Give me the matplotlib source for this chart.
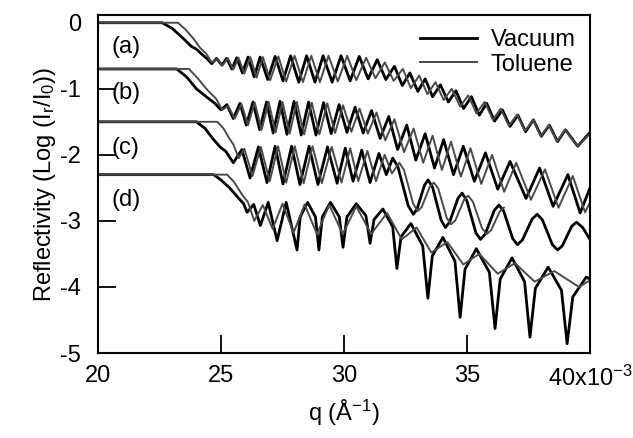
import matplotlib
matplotlib.use("Agg")
import matplotlib.pyplot as plt
from matplotlib.lines import Line2D

plt.rcParams['font.family'] = ['Liberation Sans', 'DejaVu Sans']
plt.rcParams['mathtext.fontset'] = 'custom'
plt.rcParams['mathtext.rm'] = 'Liberation Sans'
plt.rcParams['mathtext.it'] = 'Liberation Sans'
plt.rcParams['axes.unicode_minus'] = False

# q in units of 1e-3 A^-1, reflectivity as log10(I_r/I_0), offset per sample
a_vac_q = [20.0, 22.6, 23.0, 23.5, 23.8, 24.0, 24.2, 24.45,
           24.62, 24.82, 25.03, 25.23, 25.44, 25.64, 25.87, 26.10, 26.35, 26.59,
           26.90, 27.20, 27.52, 27.83, 28.16, 28.48, 28.82, 29.15, 29.52, 29.88,
           30.25, 30.62, 30.98, 31.35, 31.70, 32.05, 32.37, 32.68, 33.00, 33.30,
           33.60, 33.92, 34.24, 34.55, 34.86, 35.18, 35.50, 35.80, 36.12, 36.44,
           36.75, 37.07, 37.38, 37.70, 38.02, 38.35, 38.68, 39.00, 39.50, 40.0]
a_vac_r = [0.0, 0.0, -0.08, -0.25, -0.36, -0.40, -0.47, -0.55,
           -0.62, -0.54, -0.64, -0.54, -0.70, -0.53, -0.76, -0.52, -0.82, -0.52,
           -0.86, -0.51, -0.88, -0.50, -0.90, -0.50, -0.90, -0.50, -0.90, -0.50,
           -0.88, -0.51, -0.85, -0.56, -0.86, -0.66, -0.95, -0.76, -1.04, -0.85,
           -1.12, -0.94, -1.20, -1.03, -1.30, -1.12, -1.40, -1.22, -1.49, -1.32,
           -1.57, -1.40, -1.65, -1.47, -1.72, -1.55, -1.80, -1.62, -1.87, -1.66]

a_tol_q = [20.0, 23.25, 23.55, 23.9, 24.15, 24.4,
           24.62, 24.85, 25.06, 25.28, 25.50, 25.71, 25.95, 26.19, 26.45, 26.70,
           27.00, 27.33, 27.65, 27.99, 28.33, 28.67, 29.02, 29.37, 29.75, 30.13,
           30.50, 30.90, 31.28, 31.66, 32.02, 32.39, 32.72, 33.06, 33.39, 33.72,
           34.05, 34.38, 34.72, 35.05, 35.38, 35.72, 36.05, 36.37, 36.70, 37.04,
           37.36, 37.69, 38.00, 38.33, 38.66, 38.98, 39.50, 40.0]
a_tol_r = [0.0, 0.0, -0.1, -0.25, -0.38, -0.47,
           -0.60, -0.55, -0.65, -0.54, -0.71, -0.53, -0.77, -0.52, -0.83, -0.52,
           -0.87, -0.51, -0.89, -0.50, -0.90, -0.50, -0.90, -0.50, -0.89, -0.50,
           -0.87, -0.53, -0.84, -0.60, -0.88, -0.70, -0.99, -0.80, -1.08, -0.90,
           -1.17, -1.00, -1.27, -1.10, -1.37, -1.20, -1.47, -1.30, -1.56, -1.39,
           -1.64, -1.47, -1.72, -1.55, -1.80, -1.62, -1.87, -1.68]

b_vac_q = [20.0, 23.2, 23.6, 24.0, 24.4, 24.75,
           25.00, 25.24, 25.50, 25.77, 26.03, 26.30, 26.57, 26.85, 27.12, 27.40,
           27.68, 27.97, 28.26, 28.56, 28.86, 29.17, 29.48, 29.80, 30.12, 30.45,
           30.78, 31.12, 31.47, 31.82, 32.18, 32.55, 32.92, 33.30, 33.68, 34.05,
           34.45, 34.85, 35.30, 35.75, 36.25, 36.75, 37.40, 37.95, 38.50, 39.10,
           39.60, 40.0]
b_vac_r = [-0.7, -0.7, -0.82, -1.0, -1.12, -1.22,
           -1.32, -1.24, -1.45, -1.22, -1.55, -1.20, -1.62, -1.20, -1.67, -1.19,
           -1.69, -1.19, -1.70, -1.20, -1.70, -1.21, -1.68, -1.24, -1.66, -1.28,
           -1.67, -1.33, -1.75, -1.42, -1.92, -1.55, -2.08, -1.68, -2.20, -1.77,
           -2.30, -1.87, -2.40, -1.97, -2.52, -2.10, -2.66, -2.20, -2.78, -2.30,
           -2.88, -2.50]

b_tol_q = [20.0, 23.7, 24.05, 24.45, 24.8, 25.05,
           25.29, 25.56, 25.83, 26.10, 26.37, 26.65, 26.94, 27.22, 27.50, 27.79,
           28.08, 28.38, 28.69, 29.00, 29.32, 29.64, 29.96, 30.30, 30.63, 30.97,
           31.32, 31.68, 32.05, 32.44, 32.83, 33.22, 33.60, 33.98, 34.35, 34.75,
           35.14, 35.58, 36.02, 36.51, 37.00, 37.60, 38.17, 38.72, 39.30, 39.80,
           40.0]
b_tol_r = [-0.7, -0.7, -0.84, -1.02, -1.15, -1.32,
           -1.26, -1.45, -1.23, -1.55, -1.21, -1.62, -1.20, -1.66, -1.20, -1.68,
           -1.20, -1.69, -1.21, -1.69, -1.22, -1.67, -1.25, -1.65, -1.30, -1.68,
           -1.36, -1.78, -1.46, -1.96, -1.60, -2.12, -1.71, -2.23, -1.80, -2.33,
           -1.90, -2.44, -2.00, -2.56, -2.12, -2.68, -2.22, -2.80, -2.32, -2.87,
           -2.72]

c_vac_q = [20.0, 24.0, 24.35, 24.7, 24.96, 25.2,
           25.50, 25.85, 26.18, 26.52, 26.87, 27.20, 27.52, 27.87, 28.21, 28.58,
           28.94, 29.33, 29.72, 30.05, 30.37, 30.72, 31.06, 31.42, 31.72, 31.98,
           32.19, 32.61, 32.82, 32.97, 33.27, 33.42, 33.60, 33.95, 34.12, 34.29,
           34.63, 34.80, 34.99, 35.36, 35.55, 35.74, 36.11, 36.30, 36.49, 36.86,
           37.05, 37.25, 37.65, 37.85, 38.06, 38.47, 38.68, 38.87, 39.26, 39.45,
           39.70, 40.0]
c_vac_r = [-1.5, -1.5, -1.6, -1.77, -1.88, -1.95,
           -2.12, -1.92, -2.35, -1.88, -2.42, -1.87, -2.44, -1.87, -2.45, -1.87,
           -2.45, -1.88, -2.43, -1.90, -2.40, -1.93, -2.42, -1.98, -2.30, -2.05,
           -2.18, -2.77, -2.90, -2.82, -2.46, -2.38, -2.49, -2.99, -3.10, -3.02,
           -2.66, -2.58, -2.69, -3.18, -3.28, -3.20, -2.84, -2.76, -2.85, -3.27,
           -3.36, -3.29, -2.97, -2.90, -2.98, -3.36, -3.44, -3.38, -3.08, -3.02,
           -3.10, -3.28]

c_tol_q = [20.0, 24.85, 25.1, 25.35, 25.5, 25.72, 25.95, 26.28, 26.62, 26.98,
           27.32, 27.65, 28.00, 28.36, 28.72, 29.10, 29.50, 29.90, 30.25, 30.58,
           30.95, 31.30, 31.65, 31.95, 32.25, 32.44, 32.81, 33.00, 33.16, 33.49,
           33.65, 33.83, 34.18, 34.35, 34.53, 34.88, 35.05, 35.24, 35.61, 35.80,
           35.98, 36.33, 36.50]
c_tol_r = [-1.5, -1.5, -1.6, -1.76, -1.84, -2.05, -1.91, -2.32, -1.88, -2.40,
           -1.87, -2.42, -1.87, -2.43, -1.87, -2.43, -1.88, -2.42, -1.90, -2.40,
           -1.94, -2.40, -2.00, -2.28, -2.12, -2.23, -2.74, -2.85, -2.79, -2.48,
           -2.42, -2.51, -2.96, -3.05, -2.99, -2.68, -2.62, -2.71, -3.11, -3.20,
           -3.14, -2.86, -2.80]

d_vac_q = [20.0, 24.7, 25.0, 25.35, 25.7, 25.92, 26.06, 26.33, 26.60, 26.92,
           27.28, 27.65, 28.09, 28.22, 28.52, 28.84, 28.98, 29.12, 29.45, 29.81,
           29.96, 30.12, 30.50, 30.89, 31.06, 31.22, 31.58, 31.98, 32.15, 32.32,
           32.72, 33.20, 33.41, 33.59, 34.02, 34.51, 34.72, 34.92, 35.38, 35.91,
           36.14, 36.35, 36.83, 37.34, 37.56, 37.78, 38.30, 38.84, 39.07, 39.30,
           39.85, 40.0]
d_vac_r = [-2.3, -2.3, -2.38, -2.5, -2.65, -2.74, -2.87, -2.75, -3.07, -2.72,
           -3.30, -2.72, -3.44, -2.94, -2.72, -2.94, -3.44, -2.94, -2.72, -2.94,
           -3.40, -2.94, -2.74, -2.92, -3.34, -2.98, -2.82, -3.09, -3.72, -3.24,
           -3.04, -3.38, -4.17, -3.53, -3.25, -3.61, -4.46, -3.73, -3.42, -3.78,
           -4.63, -3.88, -3.56, -3.92, -4.76, -4.02, -3.70, -4.05, -4.86, -4.15,
           -3.85, -3.88]

d_tol_q = [20.0, 25.25, 25.55, 25.85, 26.1, 26.35, 26.70, 27.10, 27.50, 27.95,
           28.40, 28.90, 29.40, 29.95, 30.50, 31.10, 31.75, 32.35, 32.95, 33.55,
           34.20, 34.85, 35.50, 36.25, 36.95, 37.75, 38.55, 39.55, 40.0]
d_tol_r = [-2.3, -2.3, -2.42, -2.6, -2.72, -3.00, -2.76, -3.12, -2.74, -3.18,
           -2.75, -3.20, -2.76, -3.20, -2.78, -3.20, -2.88, -3.28, -3.10, -3.48,
           -3.32, -3.66, -3.50, -3.80, -3.64, -3.92, -3.76, -4.00, -3.90]

panel_labels = ['(a)', '(b)', '(c)', '(d)']
panel_label_y = [-0.37, -1.07, -1.9, -2.69]

xticks = [20, 25, 30, 35, 40]
xtick_labels = ['20', '25', '30', '35', '40x10$^{-3}$']
yticks = [0, -1, -2, -3, -4, -5]

vac_color = 'black'
tol_color = '#4a4a4a'

fig = plt.figure(figsize=(6.33, 4.38), dpi=100)
ax = fig.add_axes([98 / 633, 1 - 353 / 438, (590 - 98) / 633, (353 - 15) / 438])

vac_curves = [(a_vac_q, a_vac_r), (b_vac_q, b_vac_r), (c_vac_q, c_vac_r), (d_vac_q, d_vac_r)]
tol_curves = [(a_tol_q, a_tol_r), (b_tol_q, b_tol_r), (c_tol_q, c_tol_r), (d_tol_q, d_tol_r)]

for q, r in vac_curves:
    ax.plot(q, r, color=vac_color, lw=2.0, solid_joinstyle='round')
for q, r in tol_curves:
    ax.plot(q, r, color=tol_color, lw=1.4, solid_joinstyle='round')

for lab, yy in zip(panel_labels, panel_label_y):
    ax.text(20.55, yy, lab, fontsize=17, ha='left', va='center')

ax.set_xlim(20, 40)
ax.set_ylim(-5, 0.117)
ax.set_xticks(xticks)
ax.set_xticklabels(xtick_labels)
ax.set_yticks(yticks)
ax.set_yticklabels([str(t) for t in yticks])

ax.tick_params(direction='in', length=13, width=1.3, top=False, right=False,
               labelsize=17)
ax.tick_params(axis='x', pad=9)
ax.tick_params(axis='y', pad=12)
for s in ax.spines.values():
    s.set_linewidth(1.5)

ax.set_xlabel('q (Å$^{-1}$)', fontsize=17, labelpad=5)
ax.set_ylabel('Reflectivity (Log (I$_r$/I$_0$))', fontsize=17, labelpad=2)

handles = [Line2D([], [], color=vac_color, lw=2.0),
           Line2D([], [], color=tol_color, lw=1.4)]
ax.legend(handles, ['Vacuum', 'Toluene'], loc='upper right', frameon=False,
          fontsize=17, handlelength=2.4, handletextpad=0.6, labelspacing=0.1,
          borderaxespad=0.2)

fig.savefig('out.png', dpi=100)
